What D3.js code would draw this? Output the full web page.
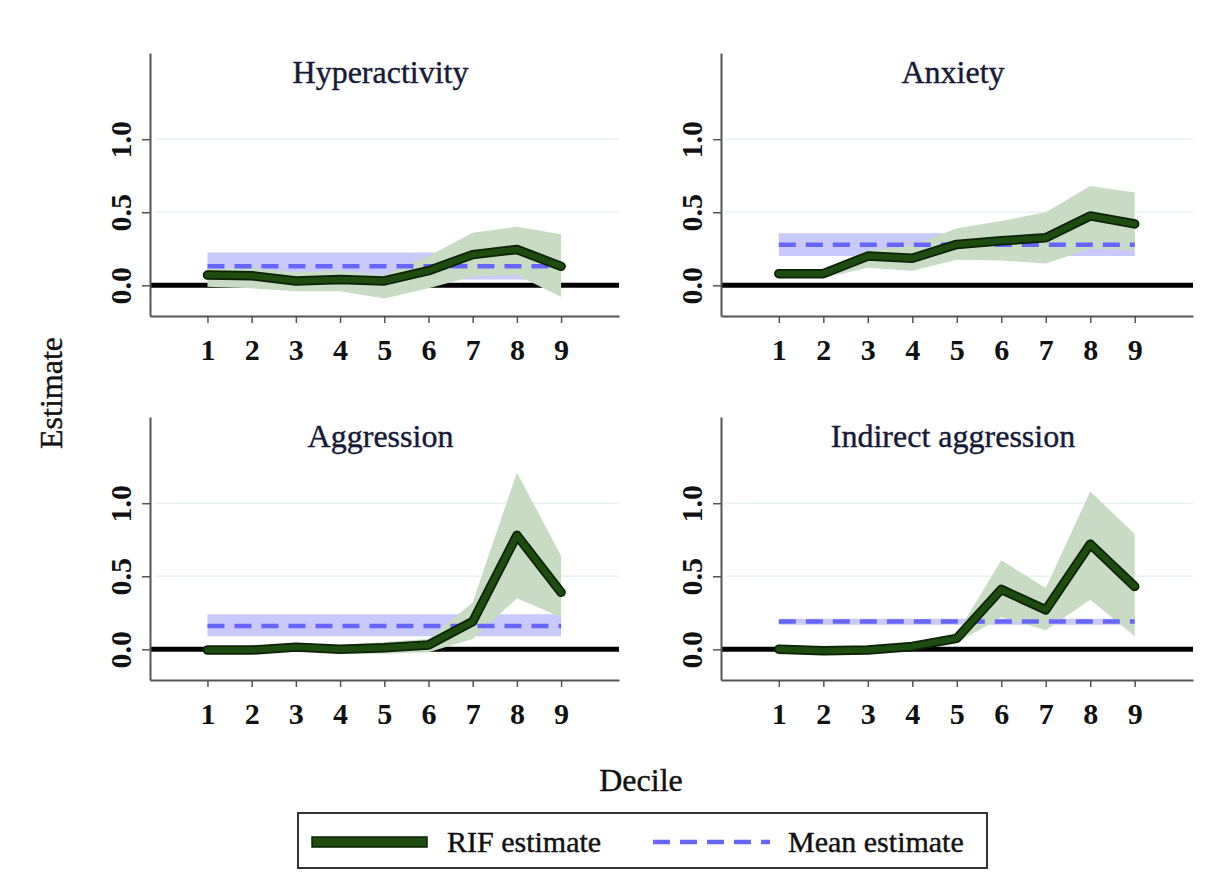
<!DOCTYPE html>
<html>
<head>
<meta charset="utf-8">
<script src="https://cdn.jsdelivr.net/npm/d3@7"></script>
<style>
  body { margin: 0; background: #fff; }
  text { font-family: "Liberation Serif", "Times New Roman", serif; }
</style>
</head>
<body>
<script>
// deciles on the x axis
const deciles = [1, 2, 3, 4, 5, 6, 7, 8, 9];
const yTicks = [0, 0.5, 1.0];
const panelTitles = ["Hyperactivity", "Anxiety", "Aggression", "Indirect aggression"];

// RIF estimates with confidence bands, one array per outcome
const rifHyper   = [0.07, 0.065, 0.03, 0.04, 0.03, 0.10, 0.21, 0.245, 0.13];
const loHyper    = [-0.01, -0.02, -0.04, -0.04, -0.09, -0.02, 0.06, 0.07, -0.08];
const hiHyper    = [0.11, 0.12, 0.09, 0.10, 0.07, 0.20, 0.36, 0.40, 0.35];

const rifAnx     = [0.08, 0.08, 0.20, 0.185, 0.28, 0.305, 0.325, 0.475, 0.42];
const loAnx      = [0.055, 0.05, 0.12, 0.10, 0.175, 0.17, 0.15, 0.25, 0.24];
const hiAnx      = [0.105, 0.11, 0.24, 0.27, 0.39, 0.44, 0.50, 0.68, 0.635];

const rifAggr    = [-0.005, -0.005, 0.015, 0.0, 0.01, 0.03, 0.19, 0.78, 0.39];
const loAggr     = [-0.03, -0.03, -0.01, -0.03, -0.03, -0.02, 0.07, 0.35, 0.22];
const hiAggr     = [0.02, 0.02, 0.04, 0.03, 0.05, 0.07, 0.32, 1.21, 0.64];

const rifIndir   = [0.0, -0.01, -0.005, 0.02, 0.075, 0.41, 0.27, 0.72, 0.43];
const loIndir    = [-0.015, -0.025, -0.02, 0.0, 0.045, 0.22, 0.13, 0.34, 0.09];
const hiIndir    = [0.015, 0.005, 0.01, 0.04, 0.105, 0.61, 0.42, 1.08, 0.79];

// OLS mean estimate and its band, per outcome
const meanEst = [0.13, 0.278, 0.16, 0.19];
const meanLo  = [0.04, 0.20, 0.09, 0.168];
const meanHi  = [0.225, 0.357, 0.24, 0.21];

const rifAll = [rifHyper, rifAnx, rifAggr, rifIndir];
const loAll  = [loHyper, loAnx, loAggr, loIndir];
const hiAll  = [hiHyper, hiAnx, hiAggr, hiIndir];

const W = 1222, H = 893;
const svg = d3.select("body").append("svg")
    .attr("width", W)
    .attr("height", H);

svg.append("rect").attr("width", W).attr("height", H).attr("fill", "#fff");

// panel boxes (axis extents)
const boxes = [
  {left: 150, right: 619, top: 53, bottom: 316},
  {left: 721, right: 1193, top: 53, bottom: 316},
  {left: 150, right: 619, top: 417, bottom: 680},
  {left: 721, right: 1193, top: 417, bottom: 680}
];

const green = "#1c4d0f", greenBand = "#c7dcc3";
const blue = "#6666ff", blueBand = "#c9c9fc";

boxes.forEach(function(b, p) {
  var x = d3.scaleLinear().domain([-0.3, 10.31]).range([b.left, b.right]);
  var y = d3.scaleLinear().domain([-0.21, 1.59]).range([b.bottom, b.top]);
  var g = svg.append("g");

  // faint grid
  g.selectAll(".grid")
    .data(yTicks.filter(function(d){ return d > 0; }))
    .enter().append("line")
      .attr("x1", b.left + 5).attr("x2", b.right)
      .attr("y1", function(d){ return y(d); })
      .attr("y2", function(d){ return y(d); })
      .attr("stroke", "#e9f1f1")
      .attr("stroke-width", 1.5);

  // zero reference line
  g.append("line")
    .attr("x1", b.left).attr("x2", b.right)
    .attr("y1", y(0)).attr("y2", y(0))
    .attr("stroke", "#000")
    .attr("stroke-width", 5);

  var rows = deciles.map(function(d, i) {
    return {d: d, est: rifAll[p][i], lo: loAll[p][i], hi: hiAll[p][i],
            m: meanEst[p], mlo: meanLo[p], mhi: meanHi[p]};
  });

  // mean band
  g.append("path")
    .datum(rows)
    .attr("fill", blueBand)
    .attr("d", d3.area()
      .x(function(r){ return x(r.d); })
      .y0(function(r){ return y(r.mlo); })
      .y1(function(r){ return y(r.mhi); }));

  // RIF band
  g.append("path")
    .datum(rows)
    .attr("fill", greenBand)
    .attr("d", d3.area()
      .x(function(r){ return x(r.d); })
      .y0(function(r){ return y(r.lo); })
      .y1(function(r){ return y(r.hi); }));

  // mean estimate dashed
  g.append("path")
    .datum(rows)
    .attr("fill", "none")
    .attr("stroke", blue)
    .attr("stroke-width", 4.5)
    .attr("stroke-dasharray", "17,10")
    .attr("d", d3.line()
      .x(function(r){ return x(r.d); })
      .y(function(r){ return y(r.m); }));

  // RIF estimate line (dark outline + green)
  var rifLine = d3.line()
    .x(function(r){ return x(r.d); })
    .y(function(r){ return y(r.est); });
  g.append("path")
    .datum(rows)
    .attr("fill", "none")
    .attr("stroke", "#0b2205")
    .attr("stroke-width", 9.5)
    .attr("stroke-linejoin", "round")
    .attr("stroke-linecap", "round")
    .attr("d", rifLine);
  g.append("path")
    .datum(rows)
    .attr("fill", "none")
    .attr("stroke", green)
    .attr("stroke-width", 6)
    .attr("stroke-linejoin", "round")
    .attr("stroke-linecap", "round")
    .attr("d", rifLine);

  // axes
  var yAxis = g.append("g")
    .attr("transform", "translate(" + b.left + ",0)")
    .call(d3.axisLeft(y).tickValues(yTicks).tickFormat(d3.format(".1f"))
      .tickSize(8).tickSizeOuter(0));
  yAxis.selectAll("text")
    .attr("transform", "rotate(-90)")
    .attr("x", 0).attr("y", -19).attr("dy", 0)
    .attr("text-anchor", "middle")
    .attr("font-size", 30)
    .attr("font-weight", "bold")
    .attr("fill", "#111");

  var xAxis = g.append("g")
    .attr("transform", "translate(0," + b.bottom + ")")
    .call(d3.axisBottom(x).tickValues(deciles).tickSize(7).tickSizeOuter(0));
  xAxis.selectAll("text")
    .attr("y", 44).attr("dy", 0)
    .attr("font-size", 30)
    .attr("font-weight", "bold")
    .attr("fill", "#111");

  [yAxis, xAxis].forEach(function(a) {
    a.select(".domain").attr("stroke", "#555").attr("stroke-width", 2);
    a.selectAll(".tick line").attr("stroke", "#555").attr("stroke-width", 1.5);
  });

  // panel title
  g.append("text")
    .attr("x", (b.left + b.right) / 2 - 4)
    .attr("y", b.top + 30)
    .attr("text-anchor", "middle")
    .attr("font-size", 32)
    .attr("fill", "#161a36")
    .attr("stroke", "#161a36")
    .attr("stroke-width", 0.4)
    .text(panelTitles[p]);
});

// shared axis titles
svg.append("text")
  .attr("x", 641).attr("y", 791)
  .attr("text-anchor", "middle")
  .attr("font-size", 32)
  .attr("fill", "#111")
  .attr("stroke", "#111")
  .attr("stroke-width", 0.4)
  .text("Decile");

svg.append("text")
  .attr("transform", "translate(62,393) rotate(-90)")
  .attr("text-anchor", "middle")
  .attr("font-size", 32)
  .attr("fill", "#111")
  .attr("stroke", "#111")
  .attr("stroke-width", 0.4)
  .text("Estimate");

// legend
var lg = svg.append("g");
lg.append("rect")
  .attr("x", 298).attr("y", 813)
  .attr("width", 689).attr("height", 55)
  .attr("fill", "#fff")
  .attr("stroke", "#333")
  .attr("stroke-width", 2);
lg.append("rect")
  .attr("x", 312).attr("y", 837)
  .attr("width", 115).attr("height", 10)
  .attr("fill", green)
  .attr("stroke", "#0b2205")
  .attr("stroke-width", 1.5);
lg.append("text")
  .attr("x", 447).attr("y", 852)
  .attr("font-size", 30)
  .attr("fill", "#111")
  .attr("stroke", "#111")
  .attr("stroke-width", 0.4)
  .text("RIF estimate");
lg.append("line")
  .attr("x1", 653).attr("x2", 770)
  .attr("y1", 842).attr("y2", 842)
  .attr("stroke", blue)
  .attr("stroke-width", 4.5)
  .attr("stroke-dasharray", "17,10");
lg.append("text")
  .attr("x", 788).attr("y", 852)
  .attr("font-size", 30)
  .attr("fill", "#111")
  .attr("stroke", "#111")
  .attr("stroke-width", 0.4)
  .text("Mean estimate");
</script>
</body>
</html>
